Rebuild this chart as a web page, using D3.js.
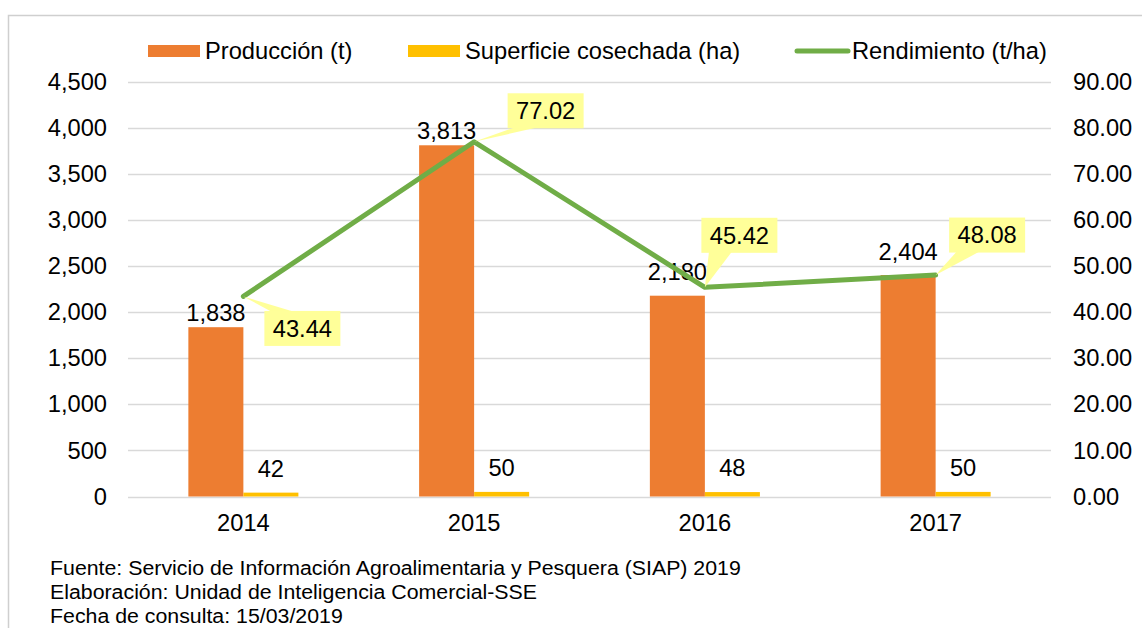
<!DOCTYPE html>
<html>
<head>
<meta charset="utf-8">
<script src="https://cdn.jsdelivr.net/npm/d3@7"></script>
<style>
  body { margin: 0; background: #fff; }
  text { font-family: Arial, "Liberation Sans", sans-serif; fill: #000; }
</style>
</head>
<body>
<div id="container"></div>
<script>
// data
const years = ["2014", "2015", "2016", "2017"];
const produccion = [1838, 3813, 2180, 2404];
const superficie = [42, 50, 48, 50];
const rendimiento = [43.44, 77.02, 45.42, 48.08];
const leftTicks = [0, 500, 1000, 1500, 2000, 2500, 3000, 3500, 4000, 4500];
const rightTicks = [0, 10, 20, 30, 40, 50, 60, 70, 80, 90];
const notes = [
    "Fuente: Servicio de Información Agroalimentaria y Pesquera (SIAP) 2019",
    "Elaboración: Unidad de Inteligencia Comercial-SSE",
    "Fecha de consulta: 15/03/2019"
];

// layout
const WIDTH = 1142;
const HEIGHT = 628;
const PLOT = { left: 128, right: 1051, top: 82, bottom: 496.5 };
const FONT = 23.7;
const ORANGE = "#ED7D31";
const YELLOW = "#FFC000";
const GREEN = "#70AD47";
const GRID = "#D9D9D9";
// label nudges (manual placement in the original)
const prodLabelDy = [-14, -15, -24, -23];
const calloutOffset = [[59, 32], [71.5, -31], [34.5, -52], [51.5, -40]];

const svg = d3.select("#container")
    .append("svg")
    .attr("width", WIDTH)
    .attr("height", HEIGHT);

// outer frame
svg.append("rect")
    .attr("x", 8.5).attr("y", 15.5)
    .attr("width", WIDTH + 20).attr("height", HEIGHT + 20)
    .attr("fill", "none")
    .attr("stroke", "#CFCFCF")
    .attr("stroke-width", 1.5);

const x = d3.scaleBand()
    .domain(years)
    .range([PLOT.left, PLOT.right]);

const barW = x.bandwidth() * 0.2384;

const yL = d3.scaleLinear()
    .domain([0, 4500])
    .range([PLOT.bottom, PLOT.top]);

const yR = d3.scaleLinear()
    .domain([0, 90])
    .range([PLOT.bottom, PLOT.top]);

const cx = (d) => x(d) + x.bandwidth() / 2;

// gridlines
svg.append("g")
    .selectAll("line")
    .data(leftTicks)
    .enter()
    .append("line")
    .attr("x1", PLOT.left)
    .attr("x2", PLOT.right)
    .attr("y1", (d) => Math.round(yL(d)) + 0.5)
    .attr("y2", (d) => Math.round(yL(d)) + 0.5)
    .attr("stroke", GRID)
    .attr("stroke-width", 1.5);

// left axis
const leftAxis = d3.axisLeft(yL)
    .tickValues(leftTicks)
    .tickFormat(d3.format(","))
    .tickSize(0)
    .tickPadding(0);

svg.append("g")
    .attr("transform", "translate(107,0)")
    .call(leftAxis)
    .call((g) => g.select(".domain").remove())
    .selectAll("text")
    .attr("font-size", FONT)
    .attr("font-family", null);

// right axis
const rightAxis = d3.axisRight(yR)
    .tickValues(rightTicks)
    .tickFormat(d3.format(".2f"))
    .tickSize(0)
    .tickPadding(0);

svg.append("g")
    .attr("transform", "translate(1073,0)")
    .call(rightAxis)
    .call((g) => g.select(".domain").remove())
    .selectAll("text")
    .attr("font-size", FONT)
    .attr("font-family", null);

// bottom axis labels
const bottomAxis = d3.axisBottom(x)
    .tickSize(0)
    .tickPadding(0);

svg.append("g")
    .attr("transform", "translate(0,514)")
    .call(bottomAxis)
    .call((g) => g.select(".domain").remove())
    .selectAll("text")
    .attr("font-size", FONT)
    .attr("font-family", null);

// bars: produccion
svg.append("g")
    .selectAll("rect")
    .data(years)
    .enter()
    .append("rect")
    .attr("x", (d) => cx(d) - barW)
    .attr("width", barW)
    .attr("y", (d, i) => yL(produccion[i]))
    .attr("height", (d, i) => yL(0) - yL(produccion[i]))
    .attr("fill", ORANGE);

// bars: superficie
svg.append("g")
    .selectAll("rect")
    .data(years)
    .enter()
    .append("rect")
    .attr("x", (d) => cx(d))
    .attr("width", barW)
    .attr("y", (d, i) => yL(superficie[i]))
    .attr("height", (d, i) => yL(0) - yL(superficie[i]))
    .attr("fill", YELLOW);

// bar labels
svg.append("g")
    .selectAll("text")
    .data(years)
    .enter()
    .append("text")
    .attr("x", (d) => cx(d) - barW / 2)
    .attr("y", (d, i) => yL(produccion[i]) + prodLabelDy[i])
    .attr("dy", "0.35em")
    .attr("text-anchor", "middle")
    .attr("font-size", FONT)
    .text((d, i) => d3.format(",")(produccion[i]));

svg.append("g")
    .selectAll("text")
    .data(years)
    .enter()
    .append("text")
    .attr("x", (d) => cx(d) + barW / 2)
    .attr("y", (d, i) => yL(superficie[i]) - 24)
    .attr("dy", "0.35em")
    .attr("text-anchor", "middle")
    .attr("font-size", FONT)
    .text((d, i) => superficie[i]);

// rendimiento line
const line = d3.line()
    .x((d, i) => cx(years[i]))
    .y((d) => yR(d));

svg.append("path")
    .datum(rendimiento)
    .attr("d", line)
    .attr("fill", "none")
    .attr("stroke", GREEN)
    .attr("stroke-width", 5)
    .attr("stroke-linecap", "round")
    .attr("stroke-linejoin", "round");

// callout labels
const BOX_W = 76;
const BOX_H = 35;
const callouts = svg.append("g")
    .selectAll("g")
    .data(rendimiento)
    .enter()
    .append("g");

callouts.each(function (d, i) {
    const g = d3.select(this);
    const px = cx(years[i]);
    const py = yR(d);
    const bx = px + calloutOffset[i][0] - BOX_W / 2;
    const by = py + calloutOffset[i][1] - BOX_H / 2;
    const edgeY = calloutOffset[i][1] > 0 ? by + 1 : by + BOX_H - 1;
    g.append("path")
        .attr("d", "M" + px + "," + py +
            "L" + (bx + BOX_W * 0.1) + "," + edgeY +
            "L" + (bx + BOX_W * 0.4) + "," + edgeY + "Z")
        .attr("fill", "#FFFF99");
    g.append("rect")
        .attr("x", bx).attr("y", by)
        .attr("width", BOX_W).attr("height", BOX_H)
        .attr("fill", "#FFFF99");
    g.append("text")
        .attr("x", bx + BOX_W / 2)
        .attr("y", by + BOX_H / 2)
        .attr("dy", "0.35em")
        .attr("text-anchor", "middle")
        .attr("font-size", FONT)
        .text(d3.format(".2f")(d));
});

// legend
const legend = svg.append("g");
const legendItems = [
    { label: "Producción (t)", x: 148, type: "rect", color: ORANGE },
    { label: "Superficie cosechada (ha)", x: 408, type: "rect", color: YELLOW },
    { label: "Rendimiento (t/ha)", x: 795, type: "line", color: GREEN }
];
legendItems.forEach((item) => {
    if (item.type === "rect") {
        legend.append("rect")
            .attr("x", item.x).attr("y", 45)
            .attr("width", 52).attr("height", 12)
            .attr("fill", item.color);
    } else {
        legend.append("line")
            .attr("x1", item.x + 2).attr("x2", item.x + 53)
            .attr("y1", 51).attr("y2", 51)
            .attr("stroke", item.color)
            .attr("stroke-width", 5)
            .attr("stroke-linecap", "round");
    }
    legend.append("text")
        .attr("x", item.x + 57)
        .attr("y", 51)
        .attr("dy", "0.35em")
        .attr("font-size", FONT)
        .text(item.label);
});

// notes
const noteText = svg.append("g")
    .selectAll("text")
    .data(notes)
    .enter()
    .append("text")
    .attr("y", (d, i) => 568 + i * 24)
    .attr("dy", "0.35em")
    .attr("font-size", 21)
    .text((d) => d);

// notes are set in a condensed face; squeeze to match
const natural = noteText.node().getComputedTextLength();
const squeeze = 691 / natural;
noteText.attr("transform", "translate(50,0) scale(" + squeeze + ",1)");
</script>
</body>
</html>
